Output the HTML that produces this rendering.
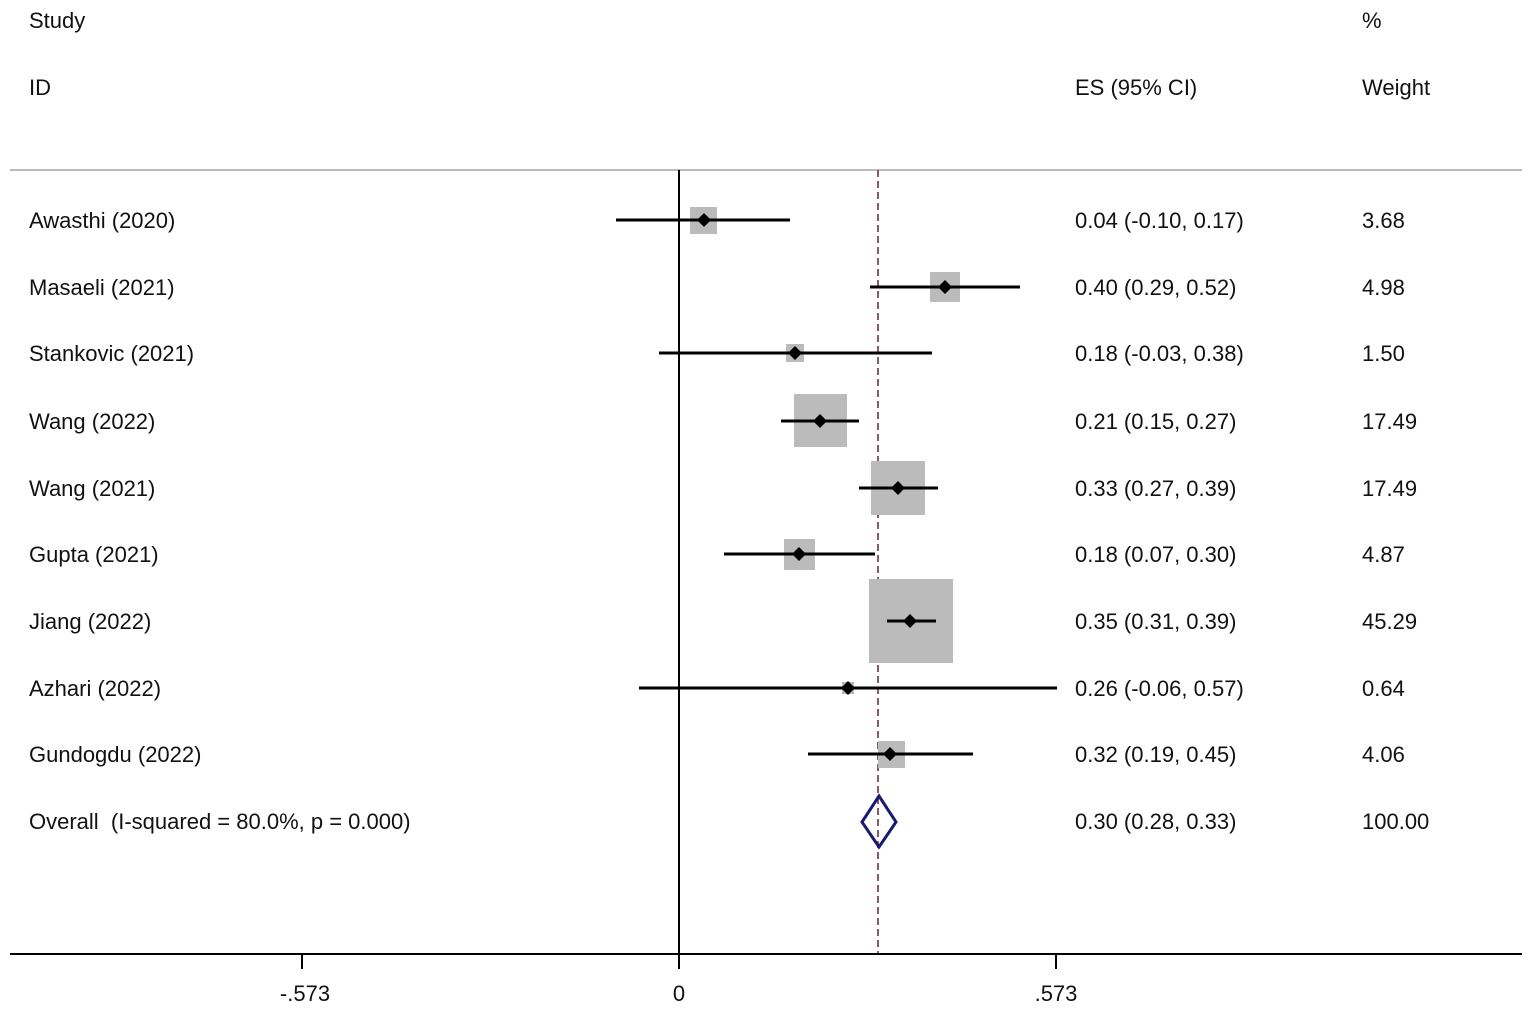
<!DOCTYPE html><html><head><style>body{margin:0;background:#fff}</style></head><body>
<svg width="1535" height="1011" xmlns="http://www.w3.org/2000/svg" font-family="Liberation Sans, Arial, sans-serif" font-size="22" fill="#111">
<rect width="1535" height="1011" fill="#fff"/>
<text x="29" y="28">Study</text><text x="1362" y="28">%</text>
<text x="29" y="95">ID</text><text x="1075" y="95">ES (95% CI)</text><text x="1362" y="95">Weight</text>
<line x1="10" y1="170" x2="1522" y2="170" stroke="#bbb" stroke-width="2"/>
<line x1="679" y1="170" x2="679" y2="954" stroke="#000" stroke-width="2"/>
<line x1="878" y1="170" x2="878" y2="954" stroke="#8b5a6a" stroke-width="2" stroke-dasharray="7,4"/>
<g fill="#bbb">
<rect x="690" y="207" width="27" height="27"/>
<rect x="930" y="272" width="30" height="30"/>
<rect x="786" y="344" width="18" height="18"/>
<rect x="794" y="394" width="53" height="53"/>
<rect x="871" y="461" width="54" height="54"/>
<rect x="784" y="539" width="31" height="31"/>
<rect x="869" y="579" width="84" height="84"/>
<rect x="842" y="682" width="12" height="12"/>
<rect x="878" y="741" width="27" height="27"/>
</g>
<g stroke="#000" stroke-width="3">
<line x1="616" y1="220" x2="790" y2="220"/>
<line x1="870" y1="287" x2="1020" y2="287"/>
<line x1="659" y1="353" x2="932" y2="353"/>
<line x1="781" y1="421" x2="859" y2="421"/>
<line x1="859" y1="488" x2="938" y2="488"/>
<line x1="724" y1="554" x2="875" y2="554"/>
<line x1="887" y1="621" x2="936" y2="621"/>
<line x1="639" y1="688" x2="1057" y2="688"/>
<line x1="808" y1="754" x2="973" y2="754"/>
</g>
<g fill="#000">
<path d="M704 213l7 7-7 7-7-7z"/>
<path d="M945 280l7 7-7 7-7-7z"/>
<path d="M795 346l7 7-7 7-7-7z"/>
<path d="M820 414l7 7-7 7-7-7z"/>
<path d="M898 481l7 7-7 7-7-7z"/>
<path d="M799 547l7 7-7 7-7-7z"/>
<path d="M910 614l7 7-7 7-7-7z"/>
<path d="M848 681l7 7-7 7-7-7z"/>
<path d="M890 747l7 7-7 7-7-7z"/>
</g>
<path d="M879 796L896 822L879 847L862 822Z" fill="none" stroke="#1a1a6e" stroke-width="3"/>
<g>
<text x="29" y="228">Awasthi (2020)</text><text x="1075" y="228">0.04 (-0.10, 0.17)</text><text x="1362" y="228">3.68</text>
<text x="29" y="295">Masaeli (2021)</text><text x="1075" y="295">0.40 (0.29, 0.52)</text><text x="1362" y="295">4.98</text>
<text x="29" y="361">Stankovic (2021)</text><text x="1075" y="361">0.18 (-0.03, 0.38)</text><text x="1362" y="361">1.50</text>
<text x="29" y="429">Wang (2022)</text><text x="1075" y="429">0.21 (0.15, 0.27)</text><text x="1362" y="429">17.49</text>
<text x="29" y="496">Wang (2021)</text><text x="1075" y="496">0.33 (0.27, 0.39)</text><text x="1362" y="496">17.49</text>
<text x="29" y="562">Gupta (2021)</text><text x="1075" y="562">0.18 (0.07, 0.30)</text><text x="1362" y="562">4.87</text>
<text x="29" y="629">Jiang (2022)</text><text x="1075" y="629">0.35 (0.31, 0.39)</text><text x="1362" y="629">45.29</text>
<text x="29" y="696">Azhari (2022)</text><text x="1075" y="696">0.26 (-0.06, 0.57)</text><text x="1362" y="696">0.64</text>
<text x="29" y="762">Gundogdu (2022)</text><text x="1075" y="762">0.32 (0.19, 0.45)</text><text x="1362" y="762">4.06</text>
<text x="29" y="829" xml:space="preserve">Overall  (I-squared = 80.0%, p = 0.000)</text><text x="1075" y="829">0.30 (0.28, 0.33)</text><text x="1362" y="829">100.00</text>
</g>
<line x1="10" y1="954" x2="1522" y2="954" stroke="#000" stroke-width="2"/>
<g stroke="#000" stroke-width="2"><line x1="302" y1="954" x2="302" y2="969"/><line x1="679" y1="954" x2="679" y2="969"/><line x1="1056" y1="954" x2="1056" y2="969"/></g>
<g text-anchor="middle"><text x="305" y="1001">-.573</text><text x="679" y="1001">0</text><text x="1056" y="1001">.573</text></g>
</svg></body></html>
